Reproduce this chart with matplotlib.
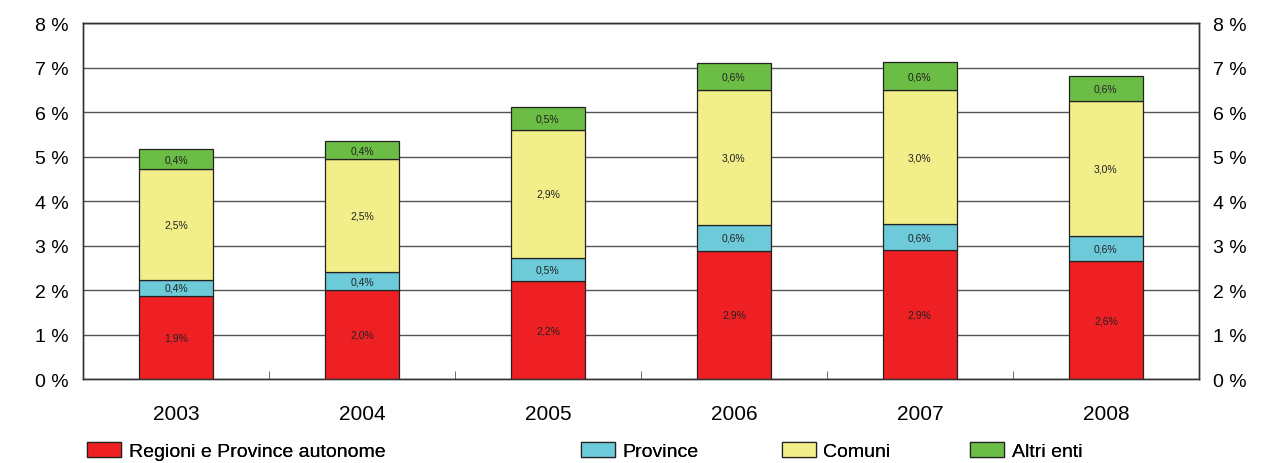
import matplotlib.pyplot as plt
import numpy as np
from matplotlib.patches import Patch

plt.rcParams['font.family'] = ['Liberation Sans', 'DejaVu Sans']

years = ['2003', '2004', '2005', '2006', '2007', '2008']
regioni = [1.87, 2.00, 2.20, 2.88, 2.90, 2.65]
province = [0.36, 0.40, 0.52, 0.58, 0.58, 0.56]
comuni = [2.50, 2.54, 2.88, 3.04, 3.01, 3.04]
altri = [0.43, 0.40, 0.51, 0.60, 0.63, 0.56]

series = [regioni, province, comuni, altri]
names = ['Regioni e Province autonome', 'Province', 'Comuni', 'Altri enti']
colors = ['#ee2024', '#6dcbd9', '#f2ee8a', '#6cbd45']

fig = plt.figure(figsize=(12.63, 4.64), dpi=100)
ax = fig.add_axes([0.0657, 0.181, 0.8835, 0.767])
ax2 = ax.twinx()

x = np.arange(len(years))
bottom = np.zeros(len(years))
for vals, name, col in zip(series, names, colors):
    vals = np.array(vals)
    ax.bar(x, vals, 0.4, bottom=bottom, color=col, edgecolor='#222222',
           linewidth=0.9, zorder=3)
    for xi, b, v in zip(x, bottom, vals):
        lbl = f"{v:.1f}".replace('.', ',') + '%'
        ax.text(xi, b + v / 2, lbl, ha='center', va='center', fontsize=7.5,
                color='#222222', zorder=4)
    bottom += vals

for a in (ax, ax2):
    a.set_ylim(0, 8)
    a.set_yticks(range(9))
    a.set_yticklabels([f"{i} %" for i in range(9)], fontsize=14)
    a.tick_params(axis='y', length=0, pad=10)
ax.yaxis.grid(True, color='#555555', linewidth=1, zorder=0)
ax.set_axisbelow(True)

ax.set_xlim(-0.5, len(years) - 0.5)
ax.set_xticks(x)
ax.set_xticklabels(years, fontsize=15)
ax.tick_params(axis='x', length=0, pad=18)
ax.set_xticks(np.arange(0.5, len(years) - 1, 1), minor=True)
ax.tick_params(axis='x', which='minor', direction='in', length=6, color='#555555')

for a in (ax, ax2):
    for s in a.spines.values():
        s.set_color('#333333')
        s.set_linewidth(1)
ax.spines['bottom'].set_color('#666666')

# one legend per entry, spread like the original
leg_x = [0.058, 0.449, 0.608, 0.757]
for name, col, lx in zip(names, colors, leg_x):
    h = Patch(facecolor=col, edgecolor='#222222', linewidth=0.9)
    lg = fig.legend([h], [name], loc='center left', bbox_to_anchor=(lx, 0.026),
                    frameon=False, fontsize=14, handlelength=1.75, handleheight=0.85,
                    handletextpad=0.4, borderpad=0.2)
    fig.add_artist(lg)

fig.savefig('out.png', dpi=100)
